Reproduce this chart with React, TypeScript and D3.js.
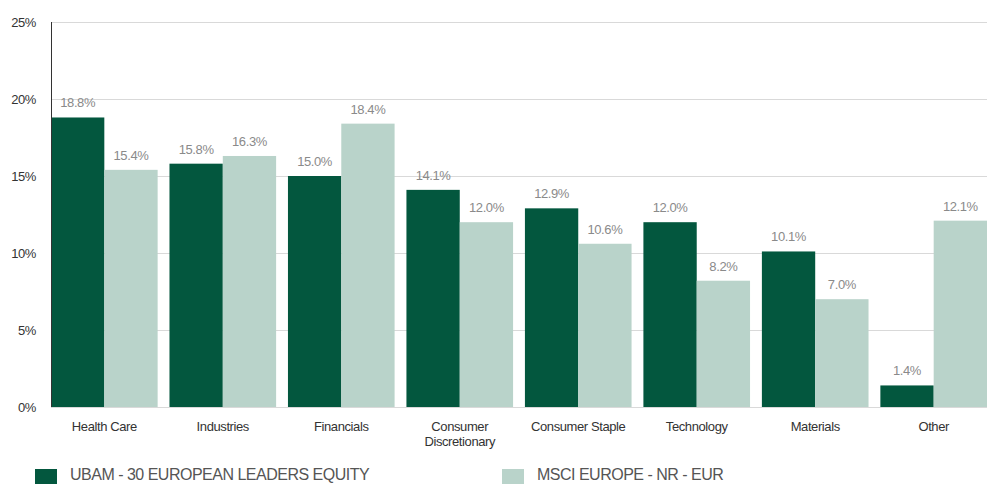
import { useEffect, useRef } from "react";
import * as d3 from "d3";

const categories = [
  "Health Care",
  "Industries",
  "Financials",
  "Consumer Discretionary",
  "Consumer Staple",
  "Technology",
  "Materials",
  "Other",
];
const fundValues = [18.8, 15.8, 15.0, 14.1, 12.9, 12.0, 10.1, 1.4];
const indexValues = [15.4, 16.3, 18.4, 12.0, 10.6, 8.2, 7.0, 12.1];
const seriesNames = ["UBAM - 30 EUROPEAN LEADERS EQUITY", "MSCI EUROPE - NR - EUR"];
const yTicks = [0, 5, 10, 15, 20, 25];

const colors = ["#03573e", "#b9d3ca"];
const font = "'Liberation Sans', Arial, sans-serif";

export default function App() {
  const svgRef = useRef<SVGSVGElement>(null);
  const width = 994;
  const height = 484;

  useEffect(() => {
    document.body.style.margin = "0";
    if (!svgRef.current) return;
    const svg = d3.select(svgRef.current);
    svg.selectAll("*").remove();

    const margin = { top: 22, right: 7, bottom: 77, left: 51 };
    const x0 = margin.left;
    const x1 = width - margin.right;
    const yBottom = height - margin.bottom;

    const x = d3
      .scaleBand<string>()
      .domain(categories)
      .range([x0, x1])
      .paddingInner(0.1)
      .paddingOuter(0);
    const xs = d3
      .scaleBand<number>()
      .domain([0, 1])
      .range([0, x.bandwidth()]);
    const y = d3.scaleLinear().domain([0, 25]).range([yBottom, margin.top]);

    // grid
    svg
      .append("g")
      .selectAll("line")
      .data(yTicks)
      .join("line")
      .attr("x1", x0)
      .attr("x2", x1)
      .attr("y1", (d) => y(d) + 0.5)
      .attr("y2", (d) => y(d) + 0.5)
      .attr("stroke", "#d9d9d9")
      .attr("stroke-width", 1);

    // y tick labels
    svg
      .append("g")
      .selectAll("text")
      .data(yTicks)
      .join("text")
      .attr("x", 36)
      .attr("y", (d) => y(d) + 5)
      .attr("text-anchor", "end")
      .attr("font-family", font)
      .attr("font-size", 13)
      .attr("letter-spacing", -0.4)
      .attr("fill", "#333")
      .text((d) => `${d}%`);

    const series = [fundValues, indexValues];
    series.forEach((vals, si) => {
      const g = svg.append("g");
      g.selectAll("rect")
        .data(vals)
        .join("rect")
        .attr("x", (_, i) => x(categories[i])! + xs(si)!)
        .attr("width", xs.bandwidth())
        .attr("y", (d) => y(d))
        .attr("height", (d) => yBottom - y(d))
        .attr("fill", colors[si]);
      g.selectAll("text")
        .data(vals)
        .join("text")
        .attr("x", (_, i) => x(categories[i])! + xs(si)! + xs.bandwidth() / 2)
        .attr("y", (d) => y(d) - 10)
        .attr("text-anchor", "middle")
        .attr("font-family", font)
        .attr("font-size", 13)
        .attr("letter-spacing", -0.4)
        .attr("fill", "#8a8a8a")
        .text((d) => `${d.toFixed(1)}%`);
    });

    // y axis line
    svg
      .append("line")
      .attr("x1", x0 + 0.5)
      .attr("x2", x0 + 0.5)
      .attr("y1", margin.top)
      .attr("y2", yBottom)
      .attr("stroke", "#333")
      .attr("stroke-width", 1);

    // x labels
    const xl = svg.append("g");
    categories.forEach((c) => {
      const words = c === "Consumer Discretionary" ? ["Consumer", "Discretionary"] : [c];
      const t = xl
        .append("text")
        .attr("x", x(c)! + x.bandwidth() / 2)
        .attr("y", yBottom + 24)
        .attr("text-anchor", "middle")
        .attr("font-family", font)
        .attr("font-size", 13)
        .attr("letter-spacing", -0.4)
        .attr("fill", "#333");
      words.forEach((w, i) => {
        t.append("tspan")
          .attr("x", x(c)! + x.bandwidth() / 2)
          .attr("dy", i === 0 ? 0 : 15)
          .text(w);
      });
    });

    // legend
    const legendX = [35, 502];
    seriesNames.forEach((name, i) => {
      svg
        .append("rect")
        .attr("x", legendX[i])
        .attr("y", 469)
        .attr("width", 22)
        .attr("height", 15)
        .attr("fill", colors[i]);
      svg
        .append("text")
        .attr("x", legendX[i] + 35)
        .attr("y", 480)
        .attr("font-family", font)
        .attr("font-size", 16)
        .attr("letter-spacing", -0.5)
        .attr("fill", "#555")
        .text(name);
    });
  }, []);

  return <svg ref={svgRef} width={width} height={height} style={{ display: "block" }} />;
}
